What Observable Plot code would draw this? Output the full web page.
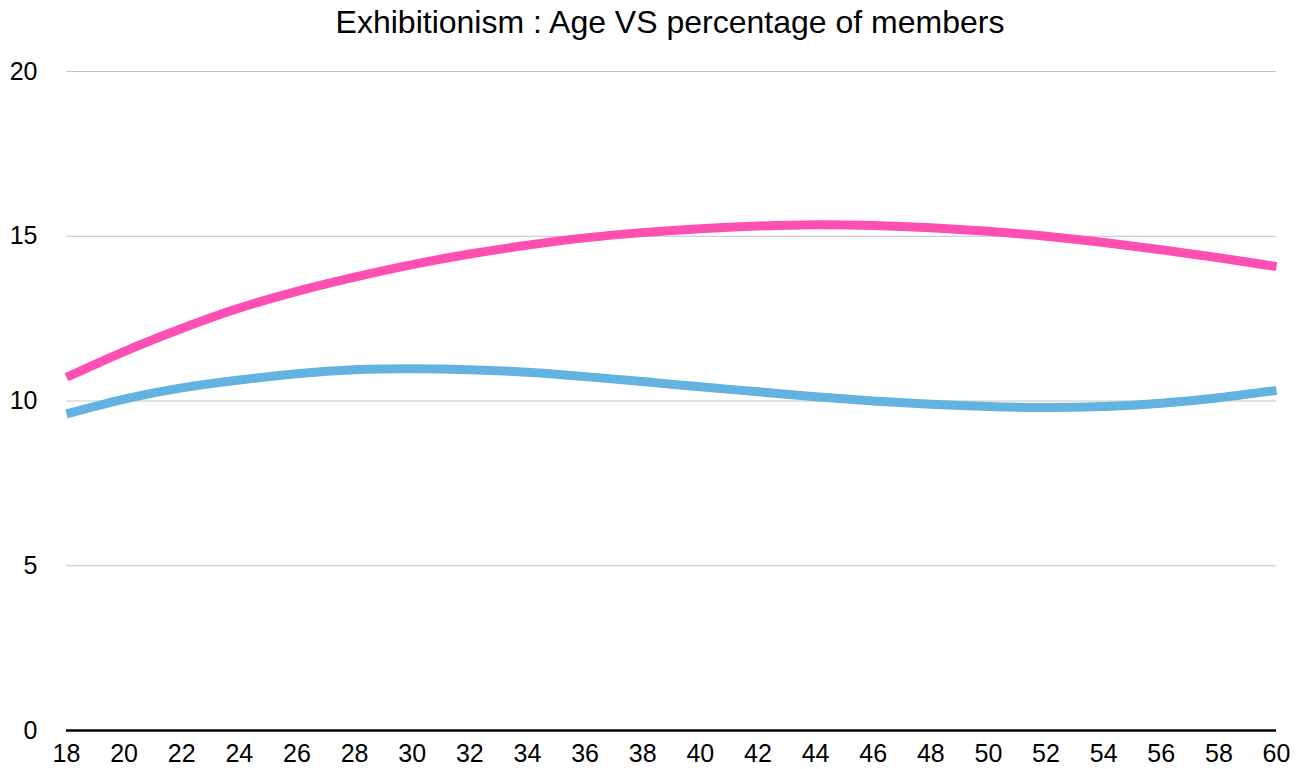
<!DOCTYPE html>
<html>
<head>
<meta charset="utf-8">
<script src="https://cdn.jsdelivr.net/npm/d3@7"></script>
<script src="https://cdn.jsdelivr.net/npm/@observablehq/plot@0.6"></script>
<style>
  html, body { margin: 0; padding: 0; background: #fff; }
  #title { font-family: "Liberation Sans", Arial, Helvetica, sans-serif; font-size: 32px; height: 45px; line-height: 45px; text-align: center; color: #000; padding-left: 39px; white-space: nowrap; }
</style>
</head>
<body>
<div id="title">Exhibitionism : Age VS percentage of members</div>
<div id="chart"></div>
<script>
const ages = [18,20,22,24,26,28,30,32,34,36,38,40,42,44,46,48,50,52,54,56,58,60];
const seriesA = [10.72,11.5,12.2,12.82,13.33,13.76,14.14,14.46,14.73,14.95,15.11,15.23,15.31,15.35,15.33,15.26,15.15,15.0,14.81,14.59,14.35,14.08];
const seriesB = [9.61,10.06,10.4,10.64,10.83,10.95,10.98,10.95,10.87,10.74,10.59,10.43,10.28,10.13,10.0,9.9,9.83,9.8,9.83,9.93,10.1,10.32];
const yTicks = [0,5,10,15,20];
const xTicks = ages;

const rowsA = ages.map((a, i) => ({age: a, value: seriesA[i]}));
const rowsB = ages.map((a, i) => ({age: a, value: seriesB[i]}));

const chart = Plot.plot({
  width: 1301,
  height: 724,
  marginLeft: 66,
  marginRight: 25,
  marginTop: 26,
  marginBottom: 39,
  style: { fontFamily: '"Liberation Sans", Arial, Helvetica, sans-serif', fontSize: "25px", color: "#000", background: "#fff" },
  x: { domain: [18, 60], ticks: xTicks, tickFormat: d => String(d), label: null },
  y: { domain: [0, 20], ticks: yTicks, label: null },
  marks: [
    Plot.ruleY(yTicks.filter(d => d !== 0), { stroke: "#c4c4c4", strokeWidth: 1 }),
    Plot.axisY({ ticks: yTicks, tickSize: 0, tickPadding: 29, label: null, fontSize: 25 }),
    Plot.axisX({ ticks: xTicks, tickSize: 0, tickPadding: 14, label: null, fontSize: 25, tickFormat: d => String(d) }),
    Plot.line(rowsA, { x: "age", y: "value", stroke: "#ff4fb3", strokeWidth: 9, curve: "natural", strokeLinecap: "butt" }),
    Plot.line(rowsB, { x: "age", y: "value", stroke: "#64b2e0", strokeWidth: 9, curve: "natural", strokeLinecap: "butt" }),
    Plot.ruleY([0], { stroke: "#000", strokeWidth: 2.5 })
  ]
});
document.getElementById("chart").appendChild(chart);
</script>
</body>
</html>
